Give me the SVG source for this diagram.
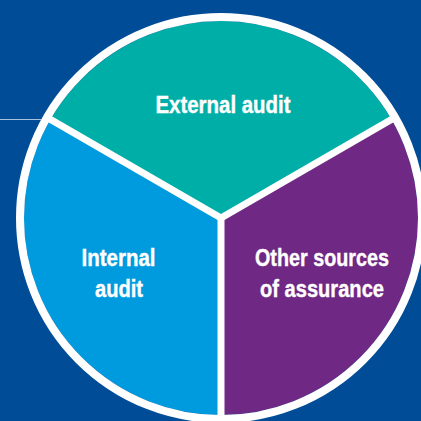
<svg xmlns="http://www.w3.org/2000/svg" width="421" height="421" viewBox="0 0 421 421">
  <style>
    .lbl { font-family: "Liberation Sans Narrow", "Liberation Sans", Arial, sans-serif; font-weight: bold; font-size: 24px; fill: #ffffff; stroke: #ffffff; stroke-width: 0.4; text-anchor: middle; }
    .div { stroke: #ffffff; stroke-width: 7; stroke-linecap: butt; fill: none; }
  </style>
  <rect x="0" y="0" width="421" height="421" fill="#004c97"/>
  <g id="external-audit">
    <path d="M221,218 L50.4,119.5 A197,197 0 0 1 391.6,119.5 Z" fill="#00aea8"/>
    <text class="lbl" x="223" y="113" textLength="135" lengthAdjust="spacingAndGlyphs">External audit</text>
  </g>
  <g id="other-sources">
    <path d="M221,218 L391.6,119.5 A197,197 0 0 1 221,415 Z" fill="#6f2883"/>
    <text class="lbl" x="322" y="266" textLength="134" lengthAdjust="spacingAndGlyphs">Other sources</text>
    <text class="lbl" x="322" y="297" textLength="124" lengthAdjust="spacingAndGlyphs">of assurance</text>
  </g>
  <g id="internal-audit">
    <path d="M221,218 L221,415 A197,197 0 0 1 50.4,119.5 Z" fill="#009bde"/>
    <text class="lbl" x="118.5" y="266" textLength="74" lengthAdjust="spacingAndGlyphs">Internal</text>
    <text class="lbl" x="119" y="297" textLength="48" lengthAdjust="spacingAndGlyphs">audit</text>
  </g>
  <g id="connectors">
    <circle cx="221" cy="218" r="201" fill="none" stroke="#ffffff" stroke-width="8"/>
    <line class="div" x1="221" y1="218" x2="221" y2="417"/>
    <line class="div" x1="221" y1="218" x2="48" y2="118"/>
    <line class="div" x1="221" y1="218" x2="394" y2="118"/>
    <line x1="0" y1="119.5" x2="41" y2="119.5" stroke="#a9c0dc" stroke-width="1"/>
  </g>
</svg>
